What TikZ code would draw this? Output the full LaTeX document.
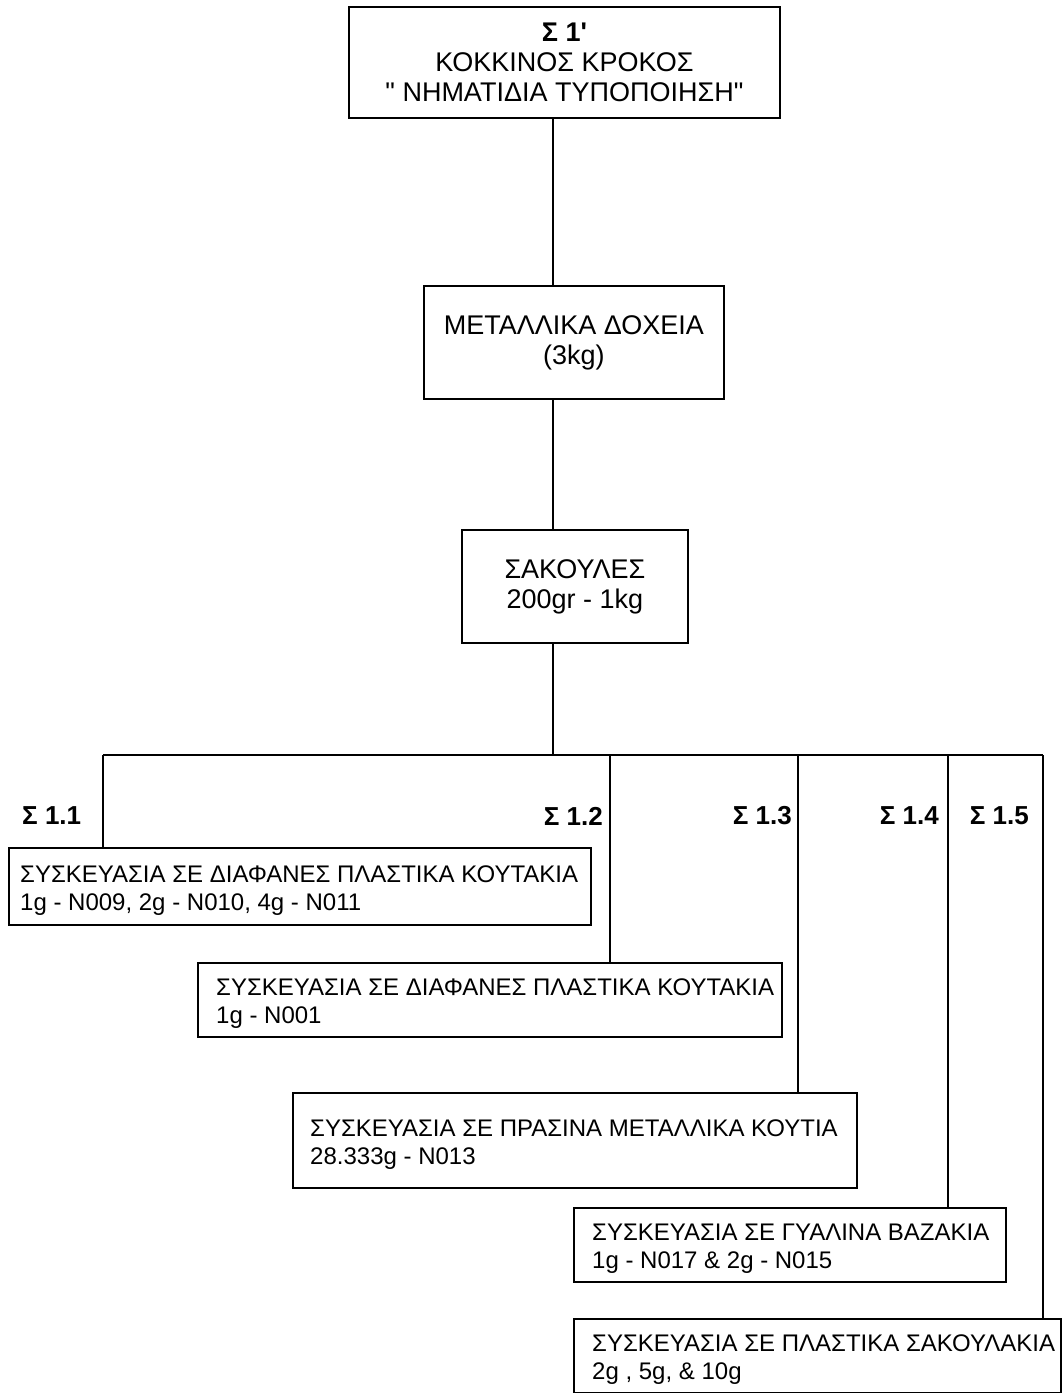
\documentclass[tikz,border=0pt]{standalone}
\usepackage{fontspec}
\newfontfamily\arialfont{Liberation Sans}
\usetikzlibrary{positioning}

\tikzset{
	box/.style={draw, line width=1.8pt, inner sep=0pt, align=center, anchor=north west, font=\arialfont\fontsize{27}{30}\selectfont},
	pkbox/.style={draw, line width=1.8pt, inner sep=0pt, anchor=north west},
	pktext/.style={inner sep=0pt, align=left, yshift=-4pt, font=\arialfont\fontsize{24}{28}\selectfont},
	lbl/.style={inner sep=0pt, font=\arialfont\bfseries\fontsize{26}{30}\selectfont},
	link/.style={line width=1.8pt}
}

\begin{document}
\begin{tikzpicture}[x=1pt, y=-1pt]
	\useasboundingbox (0,0) rectangle (1061,1393);
		\node[box, minimum width=431pt, minimum height=111pt] (top) at (348,6) {{\bfseries Σ 1'}\\ΚΟΚΚΙΝΟΣ ΚΡΟΚΟΣ\\" ΝΗΜΑΤΙΔΙΑ ΤΥΠΟΠΟΙΗΣΗ"};
		\node[box, minimum width=300pt, minimum height=113pt] (dox) at (423,285) {ΜΕΤΑΛΛΙΚΑ ΔΟΧΕΙΑ\\(3kg)};
		\node[box, minimum width=226pt, minimum height=113pt] (sak) at (461,529) {ΣΑΚΟΥΛΕΣ\\200gr - 1kg};
		\coordinate (spine) at (553,755);
		\draw[link] (top.south -| spine) -- (dox.north -| spine);
		\draw[link] (dox.south -| spine) -- (sak.north -| spine);
		\draw[link] (sak.south -| spine) -- (spine);
		% packaging boxes
		\node[pkbox, minimum width=582pt, minimum height=77pt] (s1) at (8,847) {};
		\node[pktext, right=12pt of s1.west] (t1) {ΣΥΣΚΕΥΑΣΙΑ ΣΕ ΔΙΑΦΑΝΕΣ ΠΛΑΣΤΙΚΑ ΚΟΥΤΑΚΙΑ\\1g - N009, 2g - N010, 4g - N011};
		\node[pkbox, minimum width=584pt, minimum height=74pt] (s2) at (197,962) {};
		\node[pktext, right=19pt of s2.west] (t2) {ΣΥΣΚΕΥΑΣΙΑ ΣΕ ΔΙΑΦΑΝΕΣ ΠΛΑΣΤΙΚΑ ΚΟΥΤΑΚΙΑ\\1g - N001};
		\node[pkbox, minimum width=564pt, minimum height=95pt] (s3) at (292,1092) {};
		\node[pktext, right=18pt of s3.west] (t3) {ΣΥΣΚΕΥΑΣΙΑ ΣΕ ΠΡΑΣΙΝΑ ΜΕΤΑΛΛΙΚΑ ΚΟΥΤΙΑ\\28.333g - N013};
		\node[pkbox, minimum width=432pt, minimum height=74pt] (s4) at (573,1207) {};
		\node[pktext, right=19pt of s4.west] (t4) {ΣΥΣΚΕΥΑΣΙΑ ΣΕ ΓΥΑΛΙΝΑ ΒΑΖΑΚΙΑ\\1g - N017 \& 2g - N015};
		\node[pkbox, minimum width=487pt, minimum height=74pt] (s5) at (573,1318) {};
		\node[pktext, right=19pt of s5.west] (t5) {ΣΥΣΚΕΥΑΣΙΑ ΣΕ ΠΛΑΣΤΙΚΑ ΣΑΚΟΥΛΑΚΙΑ\\2g , 5g, \& 10g};
		% branches
		\foreach \i/\x in {1/103, 2/610, 3/798, 4/948, 5/1043} {
			\coordinate (b\i) at (\x,755);
			\draw[link] (b\i) -- (s\i.north -| b\i);
		}
		\draw[link] (b1) -- (b5);
		\node[lbl, anchor=west] (l1) at (22,816) {Σ 1.1};
		\foreach \i/\x in {2/603, 3/792, 4/939, 5/1029}
			\node[lbl, anchor=east] (l\i) at (\x,816) {Σ 1.\i};
	\end{tikzpicture}
\end{document}
